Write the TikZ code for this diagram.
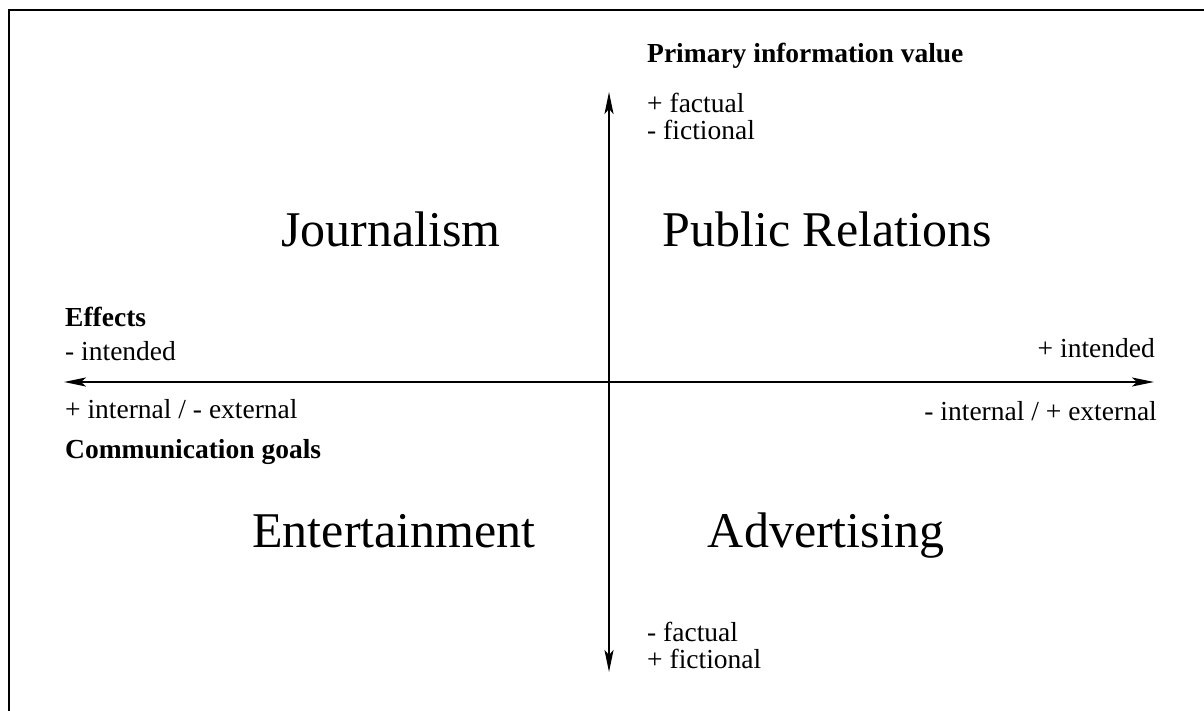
\documentclass[tikz,border=0pt]{standalone}
\usepackage{fontspec}
\setmainfont{Liberation Serif}
\usetikzlibrary{arrows.meta}

\tikzset{
    field/.style={inner sep=0pt, font=\fontsize{50}{60}\selectfont},
    pole/.style={inner sep=0pt, font=\fontsize{27.5}{32}\selectfont},
    axisname/.style={inner sep=0pt, font=\fontsize{27.5}{32}\selectfont\bfseries},
    axis/.style={line width=2.3pt, {Stealth[length=22pt,width=9pt,inset=5pt]}-{Stealth[length=22pt,width=9pt,inset=5pt]}}
}

\begin{document}
\begin{tikzpicture}[x=1pt,y=-1pt]
        \useasboundingbox (0,0) rectangle (1204,711);
        \draw[line width=2.3pt] (9,711) -- (9,10) -- (1204,10);

        \coordinate (l) at (64,382);
        \coordinate (r) at (1154,382);
        \coordinate (t) at (609,92);
        \coordinate (b) at (609,672);
        \draw[axis] (l) -- (r);
        \draw[axis] (t) -- (b);

        \node[field] (j) at (391,247) [anchor=base] {Journalism};
        \node[field] (pr) at (827,247) [anchor=base] {Public Relations};
        \node[field] (e) at (394,547) [anchor=base] {Entertainment};
        \node[field] (a) at (826,547) [anchor=base] {Advertising};

        \node[axisname] (piv) at (647,63) [anchor=base west] {Primary information value};
        \node[pole] (f1) at (647,113) [anchor=base west] {+ factual};
        \node[pole] (f2) at (647,140) [anchor=base west] {- fictional};
        \node[pole] (f3) at (647,641) [anchor=base west] {- factual};
        \node[pole] (f4) at (647,668) [anchor=base west] {+ fictional};

        \node[axisname] (eff) at (65,326) [anchor=base west] {Effects};
        \node[pole] (i1) at (65,360) [anchor=base west] {- intended};
        \node[pole] (i2) at (1155,357) [anchor=base east] {+ intended};
        \node[pole] (g1) at (65,418) [anchor=base west] {+ internal / - external};
        \node[pole] (g2) at (1157,420) [anchor=base east] {- internal / + external};
        \node[axisname] (cg) at (65,458) [anchor=base west] {Communication goals};
    \end{tikzpicture}
\end{document}
